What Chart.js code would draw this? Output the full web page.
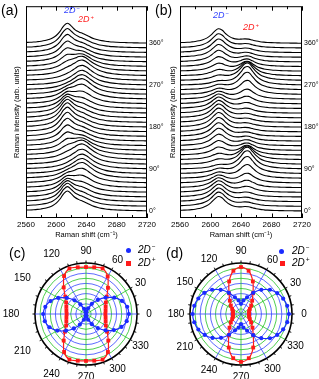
<!DOCTYPE html>
<html><head><meta charset="utf-8">
<script src="https://cdn.jsdelivr.net/npm/chart.js@4.4.1/dist/chart.umd.min.js"></script>
<style>
html,body{margin:0;padding:0;background:#fff;}
body{width:319px;height:379px;position:relative;overflow:hidden;font-family:"Liberation Sans",Arial,sans-serif;color:#000;}
canvas{position:absolute;}
.t{position:absolute;white-space:nowrap;line-height:1;}
.pl{font-size:14px;}
.it{font-style:italic;}
.sp{font-size:0.65em;position:relative;top:-0.55em;margin-left:1px;}
.dot{position:absolute;width:5px;height:5px;border-radius:50%;background:#1a2bff;}
.sq{position:absolute;width:5px;height:5px;background:#ff1a1a;}
</style></head><body>
<canvas id="ca" width="166" height="245" style="left:0;top:0;width:166px;height:245px"></canvas>
<canvas id="cb" width="159" height="245" style="left:160px;top:0;width:159px;height:245px"></canvas>
<canvas id="cc" width="175" height="134" style="left:0;top:245px;width:175px;height:134px"></canvas>
<canvas id="cd" width="159" height="134" style="left:160px;top:245px;width:159px;height:134px"></canvas>

<div class="t pl" style="left:1px;top:3px">(a)</div>
<div class="t pl" style="left:155px;top:3px">(b)</div>
<div class="t pl" style="left:9px;top:246px">(c)</div>
<div class="t pl" style="left:166px;top:246px">(d)</div>

<div class="t it" style="left:64px;top:6px;font-size:9px;color:#3344ff">2D<span class="sp">−</span></div>
<div class="t it" style="left:78px;top:15px;font-size:9px;color:#ff2020">2D<span class="sp">+</span></div>
<div class="t it" style="left:213px;top:11px;font-size:9px;color:#3344ff">2D<span class="sp">−</span></div>
<div class="t it" style="left:243px;top:23px;font-size:9px;color:#ff2020">2D<span class="sp">+</span></div>

<div class="dot" style="left:126px;top:248px"></div>
<div class="t it" style="left:138px;top:245px;font-size:10px">2D<span class="sp">−</span></div>
<div class="sq" style="left:126px;top:261px"></div>
<div class="t it" style="left:138px;top:258px;font-size:10px">2D<span class="sp">+</span></div>

<div class="dot" style="left:279px;top:249px"></div>
<div class="t it" style="left:292px;top:246px;font-size:10px">2D<span class="sp">−</span></div>
<div class="sq" style="left:280px;top:261px"></div>
<div class="t it" style="left:292px;top:258px;font-size:10px">2D<span class="sp">+</span></div>

<script>
// ---------------- data ----------------
const ramanShift = [2560,2565,2570,2575,2580,2585,2590,2595,2600,2605,2610,2615,2620,2625,2630,2635,2640,2645,2650,2655,2660,2665,2670,2675,2680,2685,2690,2695,2700,2705,2710,2715,2720];
const shiftTickValues = [2560,2600,2640,2680,2720];
const traceAngles = [0,10,20,30,40,50,60,70,80,90,100,110,120,130,140,150,160,170,180,190,200,210,220,230,240,250,260,270,280,290,300,310,320,330,340,350,360];
const labelledTraceAngles = [0,90,180,270,360];

// normalized line shapes (panel a)
const aMinusProfile = [0.040,0.048,0.059,0.074,0.095,0.126,0.174,0.251,0.382,0.599,0.883,0.992,0.771,0.500,0.321,0.215,0.152,0.112,0.085,0.067,0.054,0.044,0.037,0.031,0.027,0.023,0.021,0.018,0.016,0.014,0.013,0.012,0.011];
const aPlusProfile  = [0.050,0.057,0.066,0.077,0.090,0.107,0.130,0.160,0.200,0.256,0.334,0.445,0.596,0.781,0.948,0.997,0.889,0.705,0.530,0.396,0.299,0.231,0.182,0.147,0.120,0.100,0.084,0.072,0.062,0.054,0.048,0.042,0.038];
// panel b
const bMinusProfile = [0.052,0.064,0.079,0.100,0.130,0.176,0.246,0.360,0.543,0.800,0.993,0.900,0.640,0.424,0.285,0.200,0.146,0.111,0.087,0.069,0.057,0.047,0.040,0.034,0.029,0.026,0.023,0.020,0.018,0.016,0.014,0.013,0.012];
const bPlusProfile  = [0.018,0.020,0.023,0.026,0.030,0.035,0.041,0.049,0.059,0.072,0.091,0.117,0.155,0.214,0.308,0.460,0.692,0.941,0.973,0.746,0.500,0.332,0.229,0.165,0.123,0.095,0.075,0.061,0.051,0.042,0.036,0.031,0.027];

// polar intensities, angle 0..350 step 10
const polarAngles = [0,10,20,30,40,50,60,70,80,90,100,110,120,130,140,150,160,170,180,190,200,210,220,230,240,250,260,270,280,290,300,310,320,330,340,350];
const polarLabelAngles = [0,30,60,90,120,150,180,210,240,270,300,330];
const cMinus = [0.84,0.82,0.75,0.64,0.50,0.36,0.23,0.12,0.05,0.03,0.05,0.11,0.22,0.35,0.49,0.63,0.74,0.81,0.84,0.82,0.76,0.65,0.51,0.37,0.24,0.12,0.05,0.02,0.05,0.12,0.23,0.36,0.50,0.63,0.74,0.81];
const cPlus  = [0.38,0.39,0.41,0.45,0.53,0.67,0.85,0.95,0.93,0.92,0.93,0.95,0.86,0.68,0.53,0.45,0.41,0.39,0.38,0.39,0.41,0.45,0.54,0.68,0.86,0.95,0.93,0.92,0.93,0.95,0.86,0.68,0.54,0.45,0.41,0.39];
const dMinus = [0.94,0.92,0.88,0.82,0.74,0.62,0.48,0.35,0.27,0.20,0.27,0.35,0.48,0.62,0.74,0.83,0.89,0.93,0.95,0.93,0.89,0.82,0.73,0.61,0.47,0.34,0.27,0.20,0.27,0.35,0.48,0.62,0.74,0.82,0.88,0.92];
const dPlus  = [0.16,0.16,0.17,0.20,0.26,0.34,0.47,0.68,0.86,0.92,0.86,0.68,0.47,0.34,0.26,0.20,0.17,0.16,0.16,0.16,0.17,0.20,0.26,0.35,0.48,0.70,0.88,0.94,0.88,0.70,0.48,0.35,0.26,0.20,0.17,0.16];

// ---------------- charts ----------------
Chart.defaults.font.family = "'Liberation Sans', Arial, sans-serif";
Chart.defaults.color = '#000';
const BLUE = '#1a2bff', RED = '#ff1a1a';
const yMin = -1.47, yMax = 44;

function buildTraces(profM, profP, ampM, ampP, kM, kP) {
  return traceAngles.map((ang, i) => {
    const k = (ang / 10) % 36;
    return {
      data: ramanShift.map((x, j) => ({x: x, y: i + kM * ampM[k] * profM[j] + kP * ampP[k] * profP[j]})),
      borderColor: '#000', borderWidth: 1.1, pointRadius: 0, tension: 0.4, fill: false
    };
  });
}

const frameTicks = {
  id: 'frameTicks',
  afterDraw(chart) {
    const {ctx, chartArea: {left, right, top, bottom}, scales: {x}} = chart;
    ctx.save();
    ctx.strokeStyle = '#000'; ctx.lineWidth = 1;
    ctx.strokeRect(left + 0.5, top + 0.5, right - left - 1, bottom - top - 1);
    const vals = [];
    for (let i = 0; i < shiftTickValues.length; i++) {
      vals.push([shiftTickValues[i], 4.5]);
      if (i < shiftTickValues.length - 1) vals.push([(shiftTickValues[i] + shiftTickValues[i + 1]) / 2, 3]);
    }
    vals.forEach(([v, len]) => {
      const px = Math.round(x.getPixelForValue(v)) + 0.5;
      ctx.beginPath();
      ctx.moveTo(px, bottom); ctx.lineTo(px, bottom - len);
      ctx.moveTo(px, top); ctx.lineTo(px, top + len);
      ctx.stroke();
    });
    ctx.restore();
  }
};

function spectraOptions(leftW, rightW, titlePad) {
  return {
    responsive: false, animation: false, events: [],
    layout: {padding: {top: 2, left: 0, right: 0, bottom: 0}},
    plugins: {legend: {display: false}, tooltip: {enabled: false}},
    scales: {
      x: {type: 'linear', position: 'bottom', min: 2560, max: 2720,
        afterBuildTicks: s => { s.ticks = shiftTickValues.map(v => ({value: v})); },
        ticks: {font: {size: 8}, color: '#000', padding: 2, maxRotation: 0, autoSkip: false, callback: v => String(v)},
        grid: {display: false, drawTicks: false}, border: {display: false},
        title: {display: true, text: 'Raman shift (cm⁻¹)', font: {size: 7.5}, color: '#000', padding: {top: 0, bottom: 5.5}},
        afterFit: s => { s.height = 27; }},
      y: {position: 'left', min: yMin, max: yMax,
        ticks: {display: false}, grid: {display: false, drawTicks: false}, border: {display: false},
        title: {display: true, text: 'Raman intensity (arb. units)', font: {size: 7.5}, color: '#000', padding: {top: titlePad, bottom: 0}},
        afterFit: s => { s.width = leftW; }},
      y2: {display: true, position: 'right', min: yMin, max: yMax,
        afterBuildTicks: s => { s.ticks = labelledTraceAngles.map(a => ({value: a / 10})); },
        ticks: {font: {size: 7}, color: '#000', padding: 2, callback: v => Math.round(v * 10) + '°'},
        grid: {display: false, drawTicks: false}, border: {display: false},
        afterFit: s => { s.width = rightW; }}
    }
  };
}

new Chart(document.getElementById('ca'), {
  type: 'line',
  data: {datasets: buildTraces(aMinusProfile, aPlusProfile, cMinus, cPlus, 4.5, 3.5)},
  options: spectraOptions(26, 19, 12.5),
  plugins: [frameTicks]
});
new Chart(document.getElementById('cb'), {
  type: 'line',
  data: {datasets: buildTraces(bMinusProfile, bPlusProfile, dMinus, dPlus, 3.3, 4.3)},
  options: spectraOptions(20, 17, 8.5),
  plugins: [frameTicks]
});

// polar (radar) charts: counter-clockwise from the right
const chartAngles = polarAngles.map((a, k) => (360 - polarAngles[k]) % 360);
function reorder(arr) { return chartAngles.map(a => arr[polarAngles.indexOf(a)]); }

function polarDecor(leftExtra) {
  return {
    id: 'polarDecor',
    afterDraw(chart) {
      const s = chart.scales.r, ctx = chart.ctx, r = s.drawingArea;
      ctx.save();
      ctx.strokeStyle = '#000'; ctx.lineWidth = 1;
      chart.data.labels.forEach((lab, i) => {
        const p1 = s.getPointPosition(i, r), p2 = s.getPointPosition(i, r + 2.5);
        ctx.beginPath(); ctx.moveTo(p1.x, p1.y); ctx.lineTo(p2.x, p2.y); ctx.stroke();
      });
      ctx.font = "10px 'Liberation Sans', Arial, sans-serif";
      ctx.fillStyle = '#000'; ctx.textAlign = 'center'; ctx.textBaseline = 'middle';
      chart.data.labels.forEach((lab, i) => {
        if (!polarLabelAngles.includes(+lab)) return;
        const a = s.getIndexAngle(i) - Math.PI / 2;
        const c = Math.cos(a);
        const ext = 12 + (c < 0 ? -c * leftExtra : 0);
        const p = s.getPointPosition(i, r + ext);
        ctx.fillText(lab, p.x, p.y + 0.5);
      });
      ctx.restore();
    }
  };
}

function polarConfig(minus, plus, pad, leftExtra) {
  return {
    type: 'radar',
    data: {
      labels: chartAngles.map(String),
      datasets: [
        {data: reorder(minus), borderColor: BLUE, backgroundColor: BLUE, borderWidth: 1.2, fill: false, tension: 0.3,
          pointStyle: 'circle', pointRadius: 2.1, pointBackgroundColor: BLUE, pointBorderWidth: 0},
        {data: reorder(plus), borderColor: RED, backgroundColor: RED, borderWidth: 1.2, fill: false, tension: 0.3,
          pointStyle: 'rect', pointRadius: 2.7, pointBackgroundColor: RED, pointBorderWidth: 0}
      ]
    },
    options: {
      responsive: false, animation: false, events: [],
      layout: {padding: pad},
      plugins: {legend: {display: false}, tooltip: {enabled: false}},
      scales: {r: {
        min: 0, max: 1, startAngle: 90,
        ticks: {display: false, stepSize: 0.1},
        pointLabels: {display: false},
        grid: {circular: true,
          color: c => { const n = Math.round(c.tick.value * 10); return n === 10 ? '#000' : (n % 2 ? '#22c322' : '#3344ff'); },
          lineWidth: c => Math.round(c.tick.value * 10) === 10 ? 1.6 : 0.8},
        angleLines: {
          color: c => { const a = chartAngles[c.index]; return a % 30 ? 'rgba(0,0,0,0)' : (a % 60 ? '#22c322' : '#3344ff'); },
          lineWidth: c => chartAngles[c.index] % 30 ? 0 : 0.8}
      }}
    },
    plugins: [polarDecor(leftExtra)]
  };
}
new Chart(document.getElementById('cc'), polarConfig(cMinus, cPlus, {left: 35, right: 38, top: 18, bottom: 14}, 12));
new Chart(document.getElementById('cd'), polarConfig(dMinus, dPlus, {left: 30, right: 27, top: 18, bottom: 14}, 2));
</script>
</body></html>
